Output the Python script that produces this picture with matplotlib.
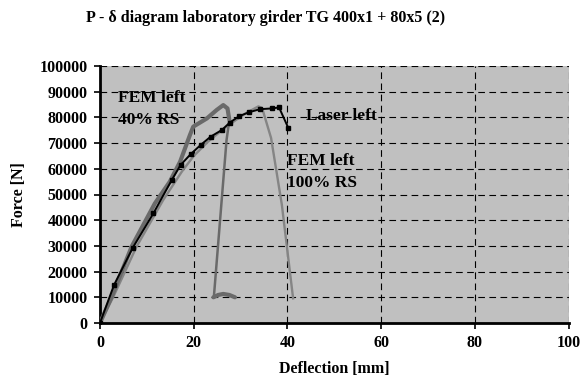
import numpy as np
import matplotlib.pyplot as plt

# Laser left (measured)
laser_x = [0, 3.0, 7.0, 11.4, 15.3, 17.2, 19.4, 21.5, 23.6, 26.0, 27.7, 29.7, 31.8, 34.1, 36.8, 38.2, 40.2]
laser_y = [0, 14800, 29300, 42700, 55600, 61500, 65800, 69300, 72500, 75100, 78000, 80500, 82000, 83200, 83500, 83900, 75800]

# FEM left 40% RS
fem40_up_x = [0, 2.5, 6.75, 11.7, 14.9, 17.1, 19.2, 19.9, 22.8, 24.9, 26.3, 27.2, 27.6]
fem40_up_y = [0, 10200, 29700, 46500, 55000, 62800, 73200, 76400, 79600, 82900, 84800, 83500, 79000]
fem40_down_x = [27.6, 27.0, 24.3]
fem40_down_y = [79000, 71200, 10200]
fem40_tail_x = [24.2, 25.2, 26.3, 27.6, 28.8]
fem40_tail_y = [10000, 10900, 11300, 10900, 10000]

# FEM left 100% RS
fem100_x = [0, 2.85, 7.8, 13.5, 17.5, 20.0, 23.0, 26.0, 29.0, 31.0, 33.8, 34.6, 36.5, 38.8, 41.2]
fem100_y = [0, 10200, 29700, 47900, 59000, 65000, 70500, 75000, 79000, 81500, 84300, 83600, 72000, 46000, 9600]

yticks = np.arange(0, 100001, 10000)
xticks = [0, 20, 40, 60, 80, 100]

plt.rcParams['font.family'] = 'Liberation Serif'
plt.rcParams['font.weight'] = 'bold'

fig = plt.figure(figsize=(5.83, 3.89), dpi=100)
ax = fig.add_axes([0.1715, 0.1697, 0.804, 0.6606])
ax.set_facecolor('#c0c0c0')

ax.plot(fem100_x, fem100_y, color='#858585', lw=1.7, zorder=3)
ax.plot(fem40_down_x, fem40_down_y, color='#6a6a6a', lw=1.8, zorder=3)
ax.plot(fem40_up_x, fem40_up_y, color='#6a6a6a', lw=3.0, zorder=3, solid_capstyle='round')
ax.plot(fem40_tail_x, fem40_tail_y, color='#6a6a6a', lw=3.0, zorder=3, solid_capstyle='round')
ax.plot(laser_x, laser_y, color='black', lw=1.4, marker='s', ms=3.2, zorder=4)

ax.set_xlim(0, 100)
ax.set_ylim(0, 100000)
ax.set_xticks(xticks)
ax.set_yticks(yticks)
ax.set_xticklabels([str(v) for v in xticks], fontsize=11.5, fontweight='bold')
ax.set_yticklabels([str(v) for v in yticks], fontsize=11.5, fontweight='bold')
ax.tick_params(direction='out', length=4, width=1.2, pad=5)

ax.grid(True, color='black', linestyle=(0, (6, 4)), lw=0.8)
ax.set_axisbelow(True)
for s in ['top', 'right']:
    ax.spines[s].set_visible(False)
for s in ['left', 'bottom']:
    ax.spines[s].set_linewidth(2)

ax.set_xlabel('Deflection [mm]', fontsize=11.5, fontweight='bold', labelpad=7)
ax.set_ylabel('Force [N]', fontsize=11.5, fontweight='bold', labelpad=9)
fig.text(0.455, 0.955, 'P - δ diagram laboratory girder TG 400x1 + 80x5 (2)',
         ha='center', va='center', fontsize=11.5, fontweight='bold')

ax.text(3.8, 90500, 'FEM left\n40% RS', fontsize=12.5, fontweight='bold', va='top', linespacing=1.45)
ax.text(44.0, 80600, 'Laser left', fontsize=12.5, fontweight='bold', va='center')
ax.text(40.0, 66000, 'FEM left\n100% RS', fontsize=12.5, fontweight='bold', va='top', linespacing=1.45)

fig.savefig('out.png', dpi=100)
